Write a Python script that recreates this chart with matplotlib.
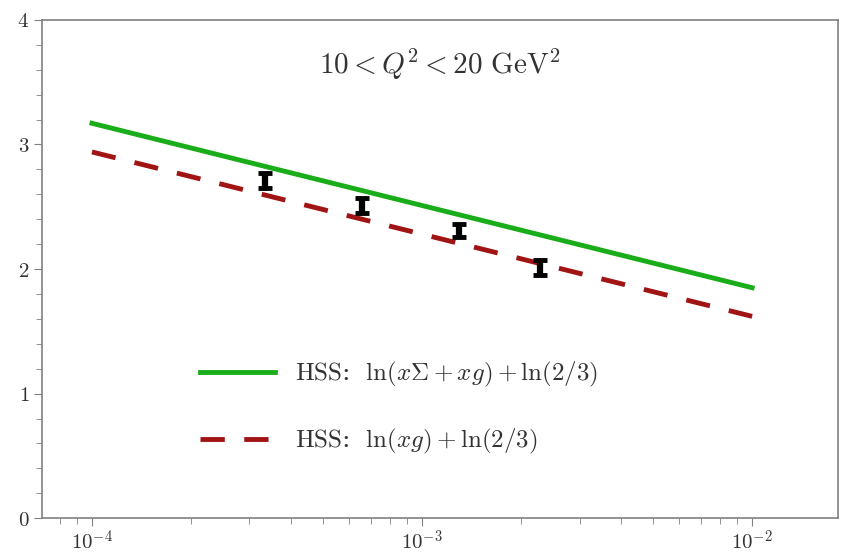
import numpy as np
import matplotlib.pyplot as plt
from matplotlib.ticker import MultipleLocator, FixedLocator, FuncFormatter, NullFormatter

plt.rcParams['mathtext.fontset'] = 'cm'
plt.rcParams['font.family'] = 'serif'
plt.rcParams['font.serif'] = ['DejaVu Serif']

# === DATA ===
x_line = [1e-4, 1e-2]
y_green = [3.17, 1.85]
y_red = [2.94, 1.62]

x_data = [3.35e-4, 6.6e-4, 1.29e-3, 2.28e-3]
y_data = [2.71, 2.51, 2.31, 2.01]
y_err = [0.06, 0.06, 0.05, 0.06]

grey = '#808080'

fig, ax = plt.subplots(figsize=(8.49, 5.53), dpi=100)
fig.subplots_adjust(left=0.05, right=0.987, bottom=0.063, top=0.964)

ax.plot(x_line, y_green, color='#1aad1a', lw=3.5,
        label=r'$\mathrm{HSS}$:  $\ln(x\Sigma+xg)+\ln(2/3)$')
ax.plot(x_line, y_red, color='#a01414', lw=3.5, ls=(0, (5, 4)),
        label=r'$\mathrm{HSS}$:  $\ln(xg)+\ln(2/3)$')
ax.errorbar(x_data, y_data, yerr=y_err, fmt='none', ecolor='black',
            elinewidth=4.5, capsize=5, capthick=3.5)

ax.set_xscale('log')
ax.set_xlim(10**-4.15, 10**-1.74)
ax.set_ylim(0, 4)
ax.yaxis.set_major_locator(MultipleLocator(1))
ax.yaxis.set_minor_locator(MultipleLocator(0.2))
ax.yaxis.set_major_formatter(FuncFormatter(lambda v, p: r'$%d$' % round(v)))
ax.xaxis.set_major_locator(FixedLocator([1e-4, 1e-3, 1e-2]))
ax.xaxis.set_major_formatter(FuncFormatter(lambda v, p: r'$10^{%d}$' % round(np.log10(v))))
ax.xaxis.set_minor_formatter(NullFormatter())

for s in ax.spines.values():
    s.set_color(grey)
    s.set_linewidth(1.2)
ax.tick_params(which='both', direction='out', color=grey, labelsize=15,
               labelcolor='#333333', top=False, right=False)
ax.tick_params(axis='x', pad=2)
ax.tick_params(which='major', length=6)
ax.tick_params(which='minor', length=4)

ax.text(0.5, 0.91, r'$10 < Q^2 < 20\ \mathrm{GeV}^2$', transform=ax.transAxes,
        ha='center', va='center', fontsize=21, color='#333333')

leg = ax.legend(loc='lower left', bbox_to_anchor=(0.17, 0.08), frameon=False,
                fontsize=18, handlelength=3.0, labelspacing=1.5)
for t in leg.get_texts():
    t.set_color('#333333')

fig.savefig('out.png', dpi=100)
